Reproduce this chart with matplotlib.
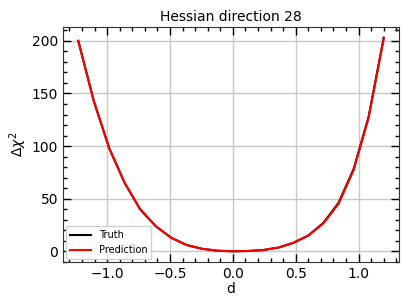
import matplotlib
matplotlib.use("Agg")
import matplotlib.pyplot as plt
from matplotlib.ticker import MultipleLocator

d = [-1.23, -1.107, -0.984, -0.861, -0.738, -0.615, -0.492, -0.369, -0.246, -0.123, 0.0,
     0.12, 0.24, 0.36, 0.48, 0.60, 0.72, 0.84, 0.96, 1.08, 1.20]
truth = [200, 143, 98, 65, 40, 24, 13, 6, 2.4, 0.6, 0.0,
         0.3, 1.2, 3.5, 8, 15, 27, 46, 78, 128, 203]
pred = [200, 143, 98, 65, 40, 24, 13, 6, 2.4, 0.6, 0.0,
        0.3, 1.2, 3.5, 8, 15, 26.5, 45, 77, 127, 202]

fig = plt.figure(figsize=(4.09, 3.07), dpi=100)
ax = fig.add_axes([63/409, 1-262/307, 336/409, 235/307])
ax.plot(d, truth, color="black", lw=1.5, label="Truth")
ax.plot(d, pred, color="red", lw=1.5, label="Prediction")
ax.set_title("Hessian direction 28", fontsize=10, pad=4)
ax.set_xlabel("d", fontsize=10, labelpad=1)
ax.set_ylabel(r"$\Delta\chi^2$", fontsize=10, labelpad=2)
ax.xaxis.set_major_locator(MultipleLocator(0.5))
ax.xaxis.set_minor_locator(MultipleLocator(0.1))
ax.yaxis.set_major_locator(MultipleLocator(50))
ax.yaxis.set_minor_locator(MultipleLocator(10))
ax.tick_params(which="both", direction="in", top=True, right=True, labelsize=10)
ax.tick_params(which="major", length=6, width=1)
ax.tick_params(which="minor", length=3, width=1)
ax.grid(True, which="major", color="#c8c8c8", lw=1)
ax.set_axisbelow(True)
for s in ax.spines.values():
    s.set_color("#333333")
ax.legend(loc="lower left", fontsize=7, framealpha=0.9, borderaxespad=0.3, handlelength=2.2)
fig.savefig("out.png", dpi=100)
